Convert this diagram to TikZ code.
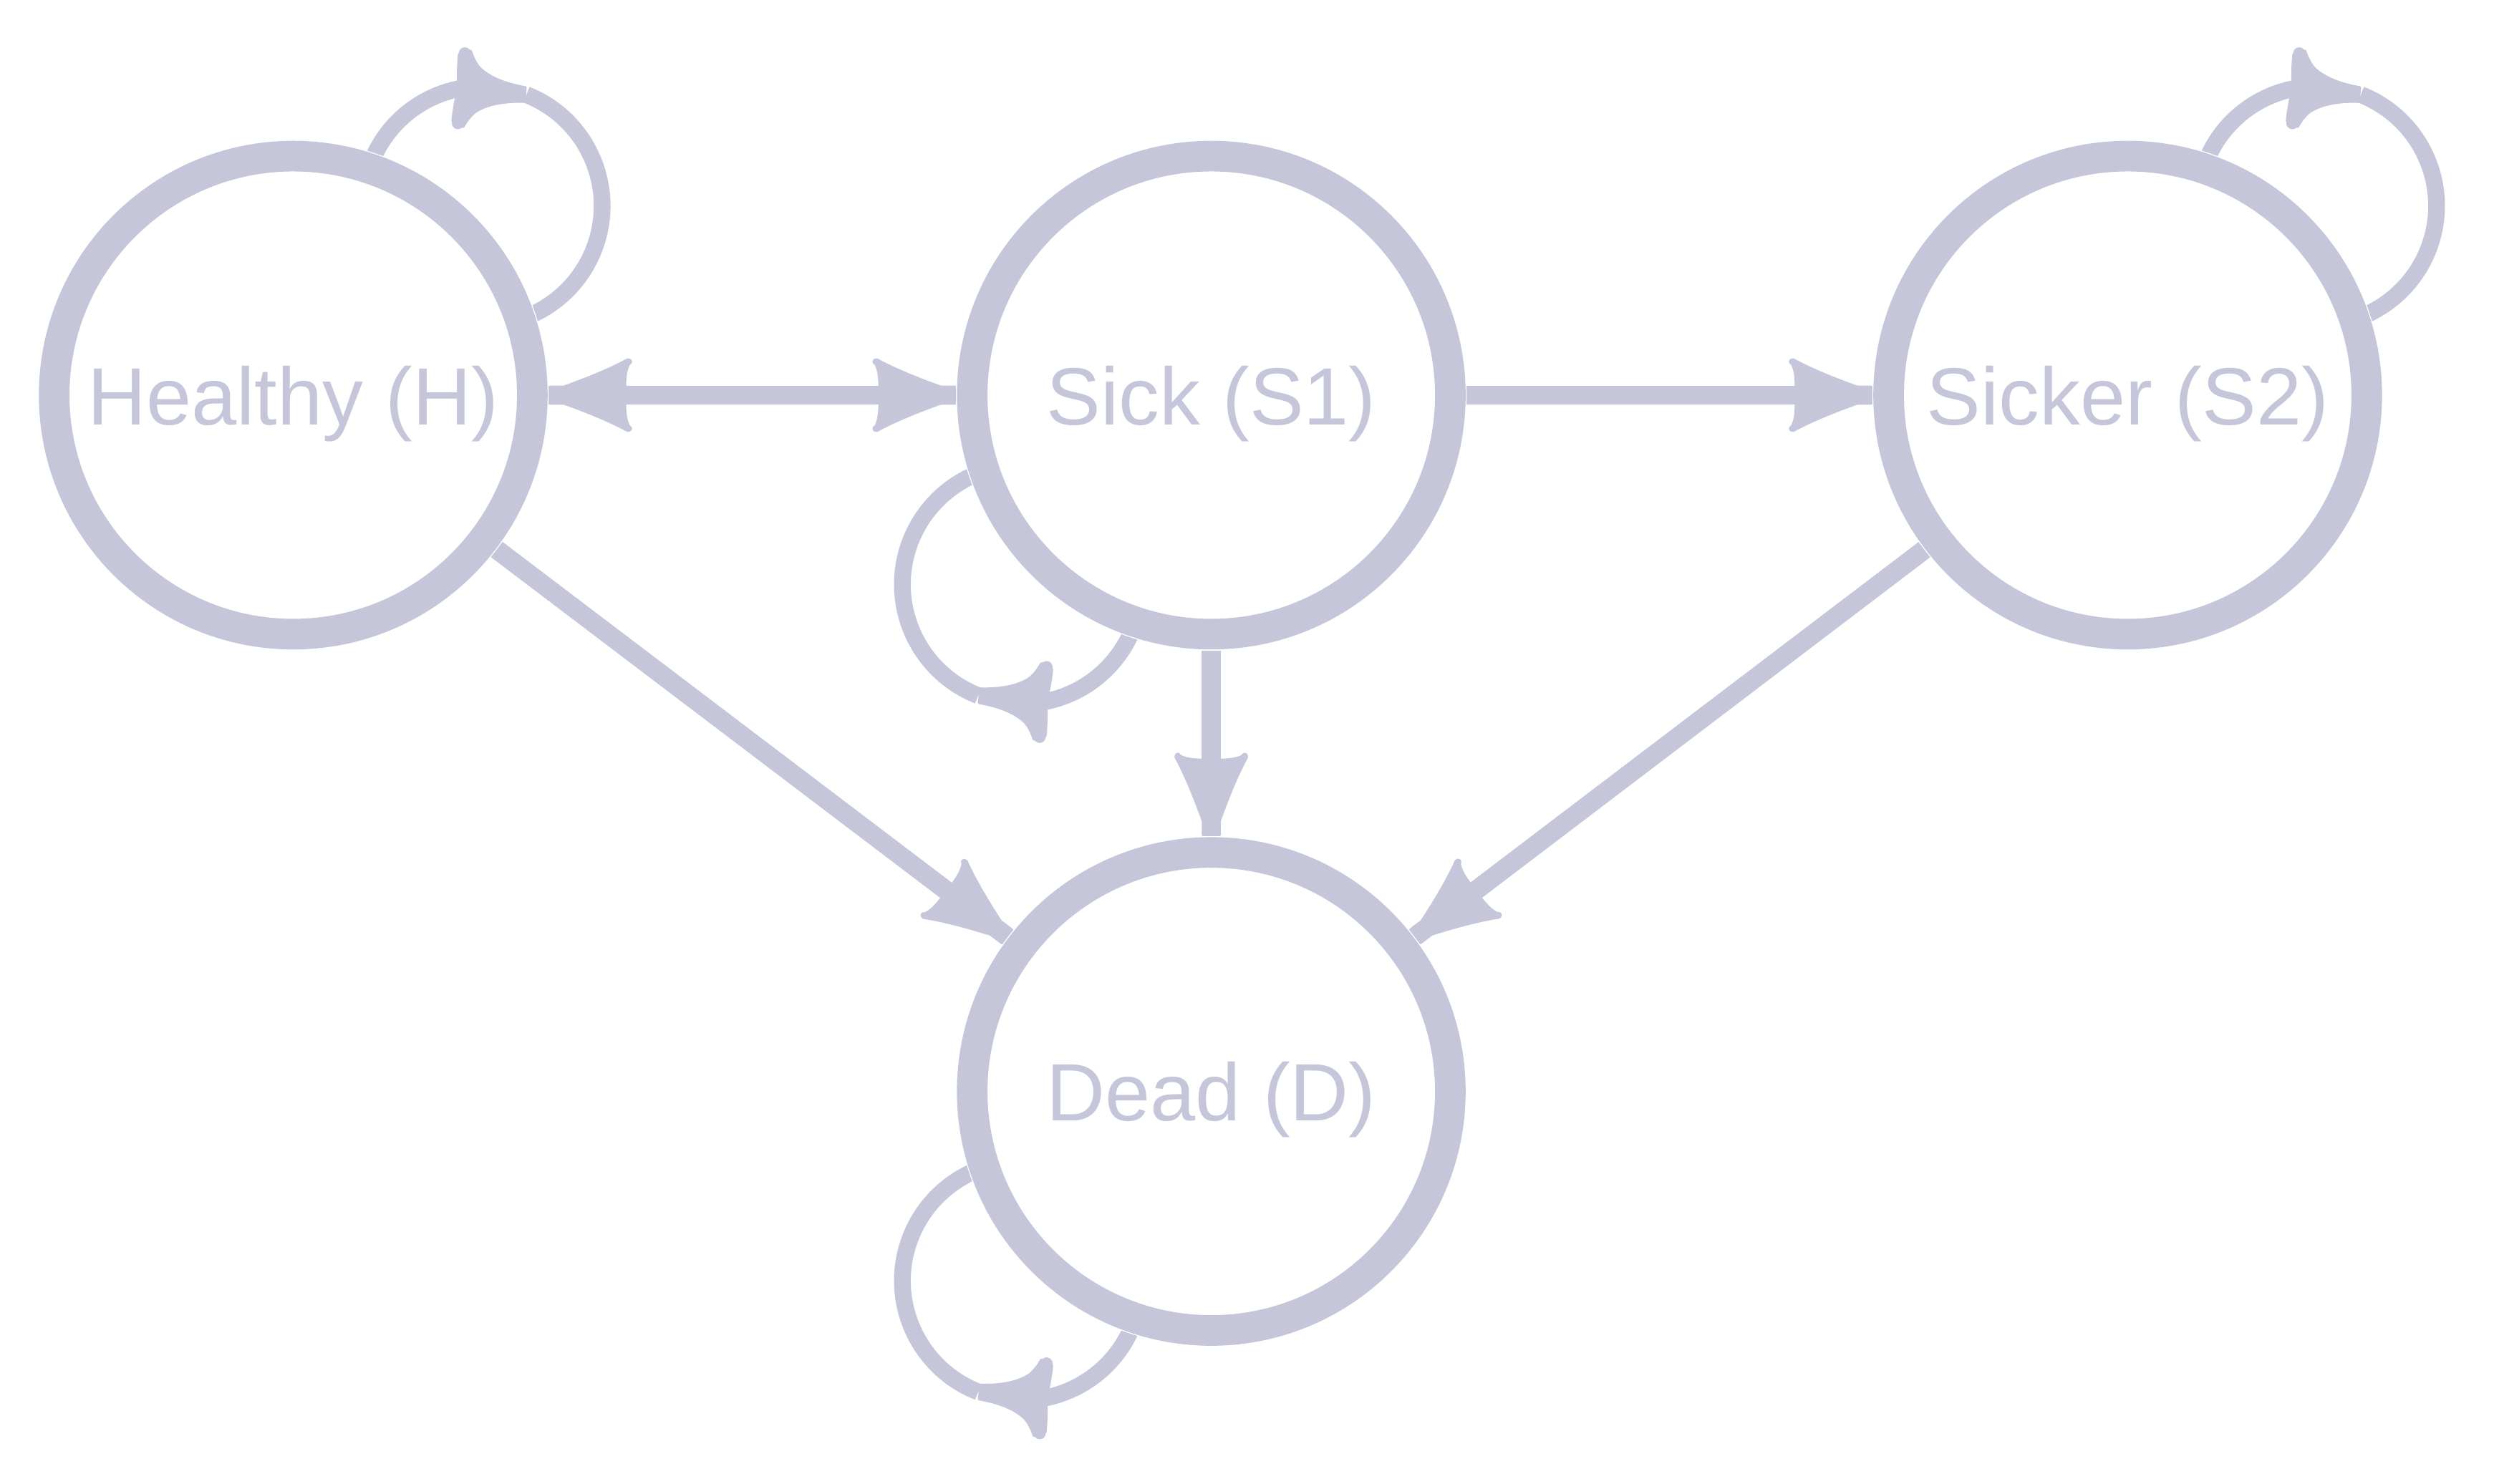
\documentclass[tikz,border=0pt]{standalone}
\usepackage{fontspec}
\setmainfont{Liberation Sans}
\usetikzlibrary{calc,backgrounds,bending,arrows.meta}
\definecolor{lav}{RGB}{197,198,218}

\pgfdeclarearrow{
  name = EdgeTip,
  setup code = {
    \pgfarrowssettipend{0.6pt}
    \pgfarrowssetbackend{-50pt}
    \pgfarrowssetlineend{-30pt}
    \pgfarrowshullpoint{0.6pt}{0pt}
    \pgfarrowsupperhullpoint{-53pt}{24pt}
  },
  drawing code = {
    \pgfsetlinewidth{1.2pt}
    \pgfsetroundjoin
    \pgfpathmoveto{\pgfqpoint{0pt}{5.4pt}}
    \pgfpathlineto{\pgfqpoint{-9pt}{5.4pt}}
    \pgfpathcurveto{\pgfqpoint{-24pt}{10.8pt}}{\pgfqpoint{-38pt}{16.5pt}}{\pgfqpoint{-49pt}{22.5pt}}
    \pgfpathlineto{\pgfqpoint{-51pt}{21pt}}
    \pgfpathcurveto{\pgfqpoint{-48.5pt}{18pt}}{\pgfqpoint{-47.5pt}{13pt}}{\pgfqpoint{-47.5pt}{5.4pt}}
    \pgfpathlineto{\pgfqpoint{-47.5pt}{-5.4pt}}
    \pgfpathcurveto{\pgfqpoint{-47.5pt}{-13pt}}{\pgfqpoint{-48.5pt}{-18pt}}{\pgfqpoint{-51pt}{-21pt}}
    \pgfpathlineto{\pgfqpoint{-49pt}{-22.5pt}}
    \pgfpathcurveto{\pgfqpoint{-38pt}{-16.5pt}}{\pgfqpoint{-24pt}{-10.8pt}}{\pgfqpoint{-9pt}{-5.4pt}}
    \pgfpathlineto{\pgfqpoint{0pt}{-5.4pt}}
    \pgfpathclose
    \pgfusepathqfillstroke
    \pgfpathcircle{\pgfqpoint{-49.8pt}{21pt}}{2pt}
    \pgfpathcircle{\pgfqpoint{-49.8pt}{-21pt}}{2pt}
    \pgfusepathqfill
  }
}

\pgfdeclarearrow{
  name = LoopTip,
  setup code = {
    \pgfarrowssettipend{1pt}
    \pgfarrowssetbackend{-42pt}
    \pgfarrowssetlineend{-25pt}
    \pgfarrowshullpoint{1pt}{0pt}
    \pgfarrowsupperhullpoint{-46pt}{27pt}
  },
  drawing code = {
    \pgfsetlinewidth{1.5pt}
    \pgfsetroundjoin
    \pgfpathmoveto{\pgfqpoint{0pt}{4.5pt}}
    \pgfpathcurveto{\pgfqpoint{-14pt}{5.5pt}}{\pgfqpoint{-24pt}{9pt}}{\pgfqpoint{-30pt}{14pt}}
    \pgfpathcurveto{\pgfqpoint{-33pt}{17pt}}{\pgfqpoint{-35pt}{20.5pt}}{\pgfqpoint{-36.5pt}{24pt}}
    \pgfpathlineto{\pgfqpoint{-43.5pt}{21pt}}
    \pgfpathcurveto{\pgfqpoint{-43.5pt}{15pt}}{\pgfqpoint{-43pt}{9pt}}{\pgfqpoint{-42.5pt}{4.5pt}}
    \pgfpathlineto{\pgfqpoint{-42.5pt}{-4.5pt}}
    \pgfpathcurveto{\pgfqpoint{-43pt}{-9pt}}{\pgfqpoint{-43.5pt}{-15pt}}{\pgfqpoint{-43.5pt}{-21pt}}
    \pgfpathlineto{\pgfqpoint{-36.5pt}{-24pt}}
    \pgfpathcurveto{\pgfqpoint{-35pt}{-20.5pt}}{\pgfqpoint{-33pt}{-17pt}}{\pgfqpoint{-30pt}{-14pt}}
    \pgfpathcurveto{\pgfqpoint{-24pt}{-9pt}}{\pgfqpoint{-14pt}{-5.5pt}}{\pgfqpoint{0pt}{-4.5pt}}
    \pgfpathclose
    \pgfusepathqfillstroke
    \pgfpathcircle{\pgfqpoint{-40pt}{22pt}}{3.8pt}
    \pgfpathcircle{\pgfqpoint{-40pt}{-22pt}}{3.8pt}
    \pgfusepathqfill
  }
}

\begin{document}
\begin{tikzpicture}[x=1pt,y=1pt,
  state/.style={circle, draw=white, line width=0.6pt, double=lav, double distance=19.2pt,
    fill=white, minimum size=300pt, inner sep=0pt, outer sep=10.2pt, text=lav,
    font=\fontsize{51}{60}\selectfont, text depth=0pt},
  trans/.style={color=lav, line width=12pt, -EdgeTip},
  selfarc/.style={color=lav, line width=10.5pt},
]
\useasboundingbox (0,0) rectangle (1568,931);
\node[state] (H) at (184,683) {Healthy (H)};
\node[state] (S1) at (760,683) {Sick (S1)};
\node[state] (S2) at (1335,683) {Sicker (S2)};
\node[state] (D) at (760,246) {Dead (D)};
\coordinate (HL) at ($(H.center)+(45:168)$);
\coordinate (S2L) at ($(S2.center)+(45:168)$);
\coordinate (S1L) at ($(S1.center)+(225:168)$);
\coordinate (DL) at ($(D.center)+(225:168)$);
\begin{scope}[on background layer]
  \fill[white] (0,0) rectangle (1568,931);
  \draw[trans, EdgeTip-EdgeTip] (H) -- (S1);
  \draw[trans] (S1) -- (S2);
  \draw[trans] (S1) -- (D);
  \draw[trans] (H) -- (D);
  \draw[trans] (S2) -- (D);
  % self loops
  \draw[selfarc, -LoopTip] ($(HL)+(157:75)$) arc[start angle=157, end angle=68.5, radius=75];
  \draw[selfarc] ($(HL)+(68.5:75)$) arc[start angle=68.5, end angle=-67, radius=75];
  \draw[selfarc, -LoopTip] ($(S2L)+(157:75)$) arc[start angle=157, end angle=68.5, radius=75];
  \draw[selfarc] ($(S2L)+(68.5:75)$) arc[start angle=68.5, end angle=-67, radius=75];
  \draw[selfarc, -LoopTip] ($(S1L)+(337:75)$) arc[start angle=337, end angle=248.5, radius=75];
  \draw[selfarc] ($(S1L)+(248.5:75)$) arc[start angle=248.5, end angle=113, radius=75];
  \draw[selfarc, -LoopTip] ($(DL)+(337:75)$) arc[start angle=337, end angle=248.5, radius=75];
  \draw[selfarc] ($(DL)+(248.5:75)$) arc[start angle=248.5, end angle=113, radius=75];
\end{scope}
\end{tikzpicture}
\end{document}
